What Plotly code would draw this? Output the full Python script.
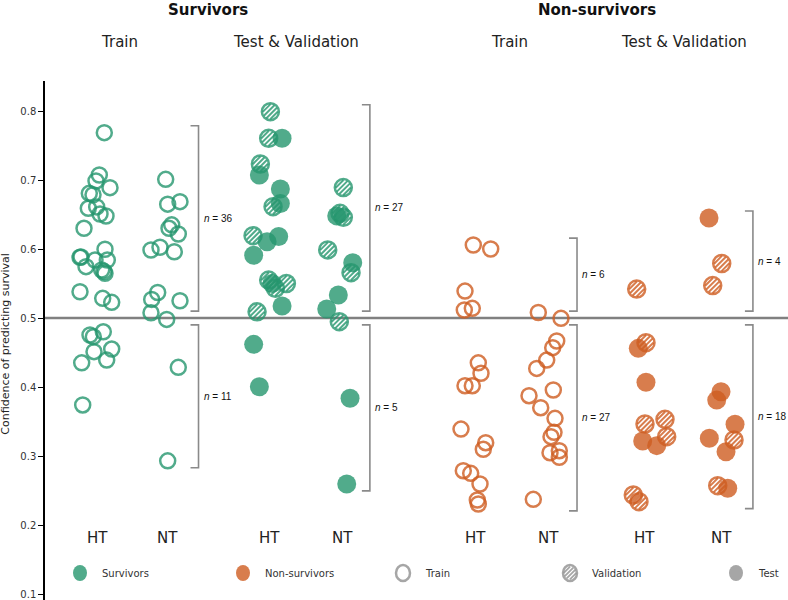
import plotly.graph_objects as go

# ------------------------------------------------------------------
# DATA (confidence values; jitter = horizontal
# scatter offset of each dot, in pixels, also read from the figure)
# ------------------------------------------------------------------
# Survivors - Train
surv_train_ht_conf = [0.7686, 0.7072, 0.6986, 0.6889, 0.6807, 0.6787, 0.659, 0.661, 0.6507, 0.6478,
                      0.630, 0.588, 0.5996, 0.584, 0.584, 0.5744, 0.5696, 0.5647, 0.538, 0.5285,
                      0.5227, 0.5885, 0.5675, 0.480, 0.4754, 0.473, 0.4512, 0.455, 0.439, 0.435, 0.374]
surv_train_ht_jit = [7.3, 2.3, -1, 13, -7.7, -4, -8.7, -0.3, 3, 9,
                     -13, -17, 8, -2, 10.3, -11, 4.7, 8, -17, 5.7,
                     14.7, -16, 7, 6.3, -7, -3.7, -3, 14.7, 9.7, -15.3, -14.3]
surv_train_nt_conf = [0.701, 0.665, 0.6686, 0.635, 0.630, 0.6217, 0.5986, 0.6025, 0.596, 0.537,
                      0.527, 0.525, 0.5077, 0.498, 0.4285, 0.293]
surv_train_nt_jit = [-2.3, -0.3, 12, 3.7, 1, 10.3, -17, -8, 6.3, -10.3,
                     -16.3, 12, -17, -1.3, 10.3, -0.3]

# Survivors - Validation / Test
surv_valid_ht_conf = [0.799, 0.7604, 0.7232, 0.6614, 0.6193, 0.555, 0.550, 0.543, 0.509]
surv_valid_ht_jit = [1, -0.7, -9, 3.7, -16.3, -0.7, 17, 6, -12.3]
surv_test_ht_conf = [0.7604, 0.7072, 0.687, 0.666, 0.618, 0.6106, 0.591, 0.550, 0.5174, 0.4618, 0.4004]
surv_test_ht_jit = [12.7, -10, 11, 11, 9.3, -2.3, -15.7, 2.7, 12.7, -15.7, -10]
surv_valid_nt_conf = [0.689, 0.6517, 0.646, 0.5986, 0.5657, 0.4947]
surv_valid_nt_jit = [1.3, -2, 1.3, -14.3, 9, -2.7]
surv_test_nt_conf = [0.648, 0.580, 0.5333, 0.513, 0.3836, 0.2594]
surv_test_nt_jit = [-5.3, 10.7, -3.7, -15.3, 8, 4.7]

# Non-survivors - Train
non_train_ht_conf = [0.6058, 0.600, 0.539, 0.5116, 0.514, 0.435, 0.4199, 0.4019, 0.4019, 0.339,
                     0.3193, 0.3097, 0.2787, 0.2749, 0.2594, 0.2362, 0.2304]
non_train_ht_jit = [-1.7, 15.7, -10, -10.7, -2.7, 3.3, 6, -10, -2.7, -14,
                    10.7, 8.3, -11.7, -4.3, 5, 2.3, 3.3]
non_train_nt_conf = [0.508, 0.4995, 0.4667, 0.457, 0.439, 0.427, 0.3957, 0.3874, 0.370, 0.3546,
                     0.3343, 0.328, 0.3048, 0.3077, 0.2981, 0.2372]
non_train_nt_jit = [-9.7, 13, 8.7, 4.7, -1.3, -11.3, 5.3, -19, -7.3, 7,
                    6, 3, 2, 11.3, 11.3, -14.7]

# Non-survivors - Validation / Test
non_valid_ht_conf = [0.542, 0.4643, 0.3464, 0.3532, 0.328, 0.2435, 0.2338]
non_valid_ht_jit = [-8.3, 1, 0, 20, 21.7, -11.7, -6]
non_test_ht_conf = [0.456, 0.4068, 0.3217, 0.315]
non_test_ht_jit = [-6.7, 1, -2.3, 11.7]
non_valid_nt_conf = [0.579, 0.547, 0.3232, 0.257]
non_valid_nt_jit = [0.7, -8.3, 13, -3.3]
non_test_nt_conf = [0.645, 0.3932, 0.381, 0.346, 0.3257, 0.3063, 0.2532]
non_test_nt_jit = [-12, 0, -4.3, 14, -11.7, 5, 6.7]

THRESHOLD = 0.5
y_ticks = [0.1, 0.2, 0.3, 0.4, 0.5, 0.6, 0.7, 0.8]
strip_labels = ["HT", "NT", "HT", "NT", "HT", "NT", "HT", "NT"]
legend_labels = ["Survivors", "Non-survivors", "Train", "Validation", "Test"]

# ------------------------------------------------------------------
# LAYOUT CONSTANTS
# ------------------------------------------------------------------
PX = 72.0  # pixels per x unit
strip_x = [0.0, 0.986, 2.394, 3.403, 5.25, 6.264, 7.611, 8.667]
bracket_x = [1.41, 3.79, 6.667, 9.11]
sub_x = [0.319, 2.764, 5.736, 8.153]

GREEN = "rgba(38,150,110,0.8)"
ORANGE = "rgba(206,92,32,0.8)"
GREY = "rgba(150,150,150,0.85)"
FONT = "DejaVu Sans"

fig = go.Figure()
shapes = []
annotations = []


def xs(center, jit):
    return [center + j / PX for j in jit]


def hatch_path(r=7.6, offsets=(-5.25, -1.75, 1.75, 5.25)):
    parts = []
    s = 0.70710678
    for d in offsets:
        h = max(r * r - d * d, 0) ** 0.5
        cx, cy = d * s, -d * s
        x0, y0 = cx - h * s, cy - h * s
        x1, y1 = cx + h * s, cy + h * s
        parts.append(f"M{x0:.2f},{y0:.2f} L{x1:.2f},{y1:.2f}")
    return " ".join(parts)


HATCH = hatch_path()


def add_train(center, conf, jit, color):
    fig.add_trace(go.Scatter(
        x=xs(center, jit), y=conf, mode="markers", showlegend=False, hoverinfo="skip",
        marker=dict(symbol="circle-open", size=15, color=color,
                    line=dict(width=2.5, color=color))))


def add_valid(center, conf, jit, color):
    xv = xs(center, jit)
    fig.add_trace(go.Scatter(
        x=xv, y=conf, mode="markers", showlegend=False, hoverinfo="skip",
        marker=dict(symbol="circle-open", size=17, color=color,
                    line=dict(width=2.5, color=color))))
    for x, y in zip(xv, conf):
        shapes.append(dict(type="path", xref="x", yref="y", xsizemode="pixel", ysizemode="pixel",
                           xanchor=x, yanchor=y, path=HATCH, layer="above",
                           line=dict(color=color, width=2)))


def add_test(center, conf, jit, color):
    fig.add_trace(go.Scatter(
        x=xs(center, jit), y=conf, mode="markers", showlegend=False, hoverinfo="skip",
        marker=dict(symbol="circle", size=19, color=color, line=dict(width=0))))


# threshold line
shapes.append(dict(type="line", xref="paper", yref="y", x0=0, x1=1, y0=THRESHOLD, y1=THRESHOLD,
                   line=dict(color="#808080", width=2.5), layer="below"))

add_train(strip_x[0], surv_train_ht_conf, surv_train_ht_jit, GREEN)
add_train(strip_x[1], surv_train_nt_conf, surv_train_nt_jit, GREEN)
add_test(strip_x[2], surv_test_ht_conf, surv_test_ht_jit, GREEN)
add_valid(strip_x[2], surv_valid_ht_conf, surv_valid_ht_jit, GREEN)
add_test(strip_x[3], surv_test_nt_conf, surv_test_nt_jit, GREEN)
add_valid(strip_x[3], surv_valid_nt_conf, surv_valid_nt_jit, GREEN)
add_train(strip_x[4], non_train_ht_conf, non_train_ht_jit, ORANGE)
add_train(strip_x[5], non_train_nt_conf, non_train_nt_jit, ORANGE)
add_test(strip_x[6], non_test_ht_conf, non_test_ht_jit, ORANGE)
add_valid(strip_x[6], non_valid_ht_conf, non_valid_ht_jit, ORANGE)
add_test(strip_x[7], non_test_nt_conf, non_test_nt_jit, ORANGE)
add_valid(strip_x[7], non_valid_nt_conf, non_valid_nt_jit, ORANGE)

# brackets with counts
bracket_groups = [
    surv_train_ht_conf + surv_train_nt_conf,
    surv_valid_ht_conf + surv_test_ht_conf + surv_valid_nt_conf + surv_test_nt_conf,
    non_train_ht_conf + non_train_nt_conf,
    non_valid_ht_conf + non_test_ht_conf + non_valid_nt_conf + non_test_nt_conf,
]
for bx, vals in zip(bracket_x, bracket_groups):
    above = [v for v in vals if v >= THRESHOLD]
    below = [v for v in vals if v < THRESHOLD]
    for lo, hi, n in [(THRESHOLD + 0.01, max(above) + 0.01, len(above)),
                      (min(below) - 0.01, THRESHOLD - 0.01, len(below))]:
        shapes.append(dict(type="path", xref="x", yref="y", xsizemode="pixel", ysizemode="scaled",
                           xanchor=bx, path=f"M-8,{hi} L0,{hi} L0,{lo} L-8,{lo}",
                           line=dict(color="#8a8a8a", width=1.6)))
        annotations.append(dict(x=bx, y=(lo + hi) / 2, xref="x", yref="y", xanchor="left",
                                yanchor="middle", xshift=3, showarrow=False,
                                text=f"<i>n</i> = {n}",
                                font=dict(family="Liberation Sans", size=10, color="#111")))

# strip labels
for sx, lab in zip(strip_x, strip_labels):
    annotations.append(dict(x=sx, y=0.1195, xref="x", yref="paper", showarrow=False, text=lab,
                            xanchor="center", yanchor="middle",
                            font=dict(family=FONT, size=15, color="#222")))

# headers
sub_texts = ["Train", "Test &amp; Validation", "Train", "Test &amp; Validation"]
for sx, t in zip(sub_x, sub_texts):
    annotations.append(dict(x=sx, y=(600 - 42) / 519.0, xref="x", yref="paper", showarrow=False,
                            text=t, xanchor="center", yanchor="middle",
                            font=dict(family=FONT, size=15, color="#222")))
for (a, b), t in zip([(0, 1), (2, 3)], ["Survivors", "Non-survivors"]):
    annotations.append(dict(x=(sub_x[a] + sub_x[b]) / 2, y=(600 - 10) / 519.0, xref="x",
                            yref="paper", showarrow=False, text=f"<b>{t}</b>",
                            xanchor="center", yanchor="middle",
                            font=dict(family=FONT, size=15, color="#111")))

# y axis title
annotations.append(dict(x=(6 - 45) / 743.0, y=0.492, xref="paper", yref="paper", showarrow=False,
                        textangle=-90, text="Confidence of predicting survival",
                        xanchor="center", yanchor="middle",
                        font=dict(family=FONT, size=11, color="#222")))

# legend (drawn manually so that the hatched marker can be shown)
W = 743.0
leg_px = [80, 243, 403, 570, 736]
LEG_Y = (600 - 573) / 519.0
for px, lab in zip(leg_px, legend_labels):
    xa = (px - 45) / W
    ell = dict(type="circle", xref="paper", yref="paper", xsizemode="pixel", ysizemode="pixel",
               xanchor=xa, yanchor=LEG_Y, x0=-7, x1=7, y0=-8, y1=8)
    if lab == "Survivors":
        ell.update(fillcolor=GREEN, line=dict(width=0))
        shapes.append(ell)
    elif lab == "Non-survivors":
        ell.update(fillcolor=ORANGE, line=dict(width=0))
        shapes.append(ell)
    elif lab == "Train":
        ell.update(line=dict(color=GREY, width=2.5))
        shapes.append(ell)
    elif lab == "Validation":
        ell.update(line=dict(color=GREY, width=2.5))
        shapes.append(ell)
        shapes.append(dict(type="path", xref="paper", yref="paper", xsizemode="pixel",
                           ysizemode="pixel", xanchor=xa, yanchor=LEG_Y,
                           path=hatch_path(6.4, (-4.5, -1.5, 1.5, 4.5)),
                           line=dict(color=GREY, width=1.8)))
    else:
        ell.update(fillcolor=GREY, line=dict(width=0))
        shapes.append(ell)
    annotations.append(dict(x=(px + 20 - 45) / W, y=LEG_Y, xref="paper", yref="paper",
                            xanchor="left", yanchor="middle", showarrow=False, text=lab,
                            font=dict(family=FONT, size=10, color="#333")))

fig.update_layout(
    width=788, height=600,
    margin=dict(l=45, r=0, t=81, b=0),
    paper_bgcolor="white", plot_bgcolor="white",
    shapes=shapes, annotations=annotations,
    xaxis=dict(range=[(45 - 97) / PX, (788 - 97) / PX], visible=False, fixedrange=True),
    yaxis=dict(range=[0.0913, 0.8435], tickvals=y_ticks, ticktext=[f"{t:.1f}" for t in y_ticks],
               showline=True, linecolor="black", linewidth=1.5, ticks="outside", ticklen=5,
               tickwidth=1.2, tickcolor="black", showgrid=False, zeroline=False,
               tickfont=dict(family=FONT, size=10, color="#333")),
    font=dict(family=FONT),
)

fig.write_html("out.html")
